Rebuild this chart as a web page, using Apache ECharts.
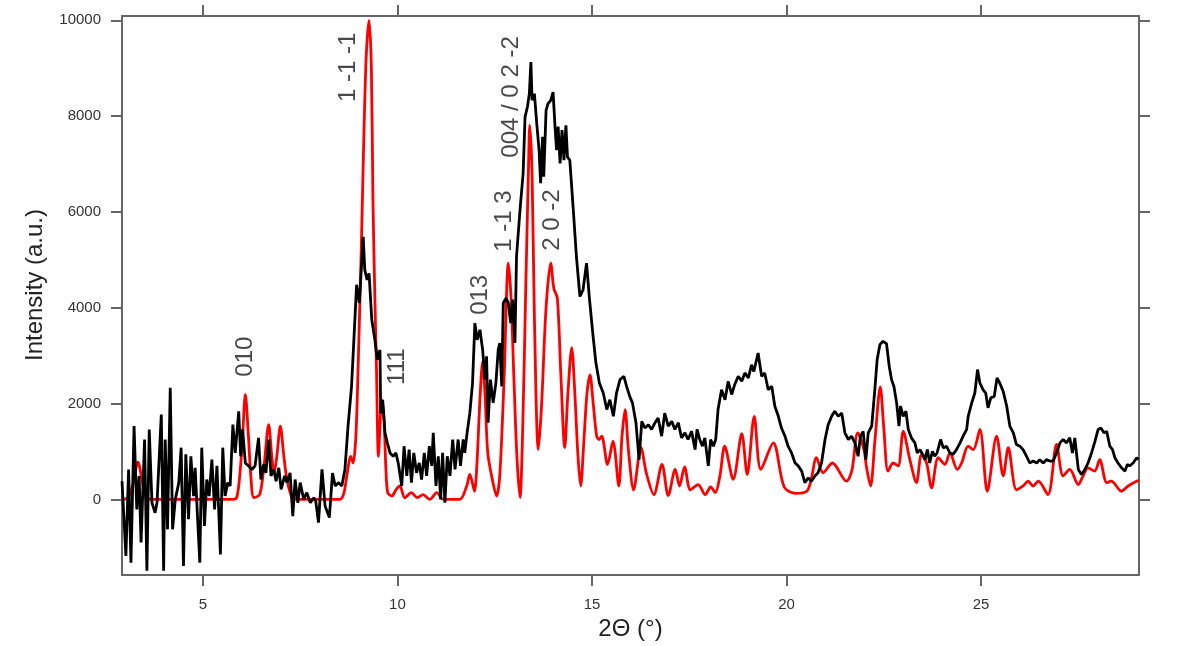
<!DOCTYPE html>
<html>
<head>
<meta charset="utf-8">
<script src="https://cdn.jsdelivr.net/npm/echarts@6/dist/echarts.min.js"></script>
<style>html,body{margin:0;padding:0;background:#fff}#c{width:1181px;height:646px}</style>
</head>
<body>
<div id="c"></div>
<script>
// Calculated pattern (red)
const calcX = [2.92,3.07,3.20,3.33,3.46,3.56,3.77,5.75,5.87,5.96,6.02,6.09,6.17,6.23,6.31,6.46,6.57,6.69,6.77,6.83,6.90,6.99,7.08,7.16,7.29,7.42,8.52,8.62,8.70,8.80,8.86,8.93,8.99,9.08,9.14,9.20,9.27,9.33,9.37,9.42,9.46,9.51,9.55,9.59,9.65,9.70,9.75,9.86,9.96,10.06,10.19,10.36,10.51,10.66,10.83,11.01,11.18,11.60,11.78,11.86,11.91,11.98,12.04,12.12,12.19,12.25,12.32,12.43,12.55,12.63,12.74,12.85,12.92,12.99,13.07,13.15,13.22,13.30,13.37,13.40,13.46,13.52,13.62,13.70,13.82,13.94,14.02,14.11,14.20,14.30,14.38,14.48,14.56,14.64,14.71,14.79,14.87,14.95,15.02,15.12,15.18,15.25,15.40,15.54,15.69,15.77,15.85,15.94,16.07,16.26,16.40,16.59,16.80,16.96,17.14,17.25,17.38,17.53,17.73,17.91,18.05,18.17,18.29,18.41,18.63,18.85,18.99,19.17,19.34,19.66,19.94,20.24,20.52,20.63,20.77,20.94,21.18,21.54,21.68,21.83,21.99,22.06,22.16,22.27,22.41,22.50,22.61,22.74,22.87,23.00,23.17,23.34,23.47,23.60,23.73,23.90,24.07,24.20,24.39,24.50,24.67,24.80,24.97,25.16,25.40,25.57,25.70,25.91,26.08,26.21,26.34,26.47,26.72,26.94,27.11,27.28,27.50,27.62,27.75,27.92,28.05,28.23,28.35,28.61,28.78,29.00,29.06];
const calcY = [0,30,300,780,300,20,0,0,40,620,1320,2190,1320,500,40,100,700,1560,900,550,900,1530,900,415,40,0,0,120,500,900,760,1300,2780,5560,7700,9300,10000,9000,6250,4200,2780,900,1500,2080,1735,700,140,70,200,280,35,140,40,100,0,140,0,0,280,520,400,170,700,2080,2880,2200,980,450,70,500,2500,4930,4200,2600,900,40,1500,4500,7000,7810,6800,3800,1040,1900,4000,4930,4400,4200,2600,1080,2200,3170,2200,900,280,1200,2200,2600,2100,1320,1250,1320,730,1215,280,1300,1875,1000,200,1080,540,100,730,80,625,280,680,200,310,100,260,140,500,1110,420,1370,520,1735,625,1180,260,125,170,400,870,555,760,380,600,1390,1040,650,280,1200,2350,1500,590,760,700,1420,830,350,940,760,240,870,730,970,625,760,1110,1040,1460,170,1320,490,1080,200,280,380,280,380,100,1150,490,625,310,490,660,590,830,350,380,170,280,380,400];

// Experimental pattern (black)
const expX = [2.92,2.96,3.02,3.09,3.15,3.23,3.30,3.36,3.41,3.50,3.56,3.62,3.69,3.77,3.82,3.93,3.99,4.03,4.09,4.16,4.22,4.29,4.38,4.44,4.50,4.56,4.63,4.69,4.76,4.80,4.86,4.92,4.97,5.04,5.10,5.16,5.23,5.30,5.36,5.45,5.51,5.57,5.64,5.70,5.77,5.83,5.92,5.97,6.02,6.09,6.17,6.26,6.34,6.43,6.49,6.56,6.62,6.69,6.75,6.82,6.88,6.95,7.01,7.10,7.16,7.24,7.31,7.37,7.44,7.50,7.59,7.67,7.76,7.85,7.90,7.97,8.06,8.14,8.25,8.33,8.40,8.49,8.57,8.65,8.73,8.82,8.88,8.95,9.02,9.05,9.12,9.16,9.22,9.27,9.34,9.42,9.48,9.55,9.57,9.62,9.68,9.74,9.81,9.89,9.96,10.02,10.11,10.17,10.24,10.30,10.36,10.42,10.49,10.56,10.62,10.69,10.75,10.82,10.88,10.92,10.99,11.05,11.11,11.16,11.22,11.28,11.35,11.42,11.48,11.56,11.62,11.69,11.73,11.79,11.86,11.93,11.99,12.05,12.12,12.19,12.25,12.29,12.33,12.39,12.46,12.53,12.59,12.63,12.68,12.72,12.79,12.85,12.91,12.96,13.02,13.06,13.15,13.23,13.28,13.34,13.39,13.43,13.46,13.52,13.58,13.64,13.68,13.73,13.76,13.82,13.87,13.94,14.00,14.05,14.09,14.13,14.18,14.23,14.28,14.33,14.37,14.43,14.52,14.60,14.69,14.77,14.86,14.93,15.02,15.10,15.19,15.29,15.38,15.46,15.55,15.63,15.72,15.82,15.89,15.97,16.04,16.13,16.21,16.28,16.36,16.45,16.53,16.62,16.70,16.79,16.87,16.96,17.05,17.13,17.22,17.30,17.39,17.47,17.56,17.65,17.70,17.77,17.84,17.90,17.99,18.05,18.12,18.18,18.24,18.33,18.42,18.50,18.59,18.67,18.76,18.85,18.93,19.02,19.10,19.16,19.27,19.36,19.44,19.53,19.62,19.70,19.79,19.87,19.96,20.04,20.13,20.22,20.30,20.39,20.47,20.56,20.64,20.73,20.81,20.90,20.99,21.07,21.16,21.24,21.33,21.42,21.50,21.59,21.67,21.76,21.84,21.90,21.97,22.04,22.10,22.19,22.27,22.33,22.40,22.48,22.57,22.64,22.70,22.76,22.83,22.89,22.93,23.00,23.07,23.13,23.21,23.30,23.36,23.43,23.50,23.56,23.62,23.68,23.75,23.81,23.87,23.96,24.03,24.11,24.20,24.28,24.37,24.46,24.54,24.63,24.67,24.76,24.84,24.91,24.97,25.05,25.12,25.18,25.25,25.34,25.41,25.48,25.57,25.66,25.74,25.83,25.91,26.00,26.08,26.17,26.25,26.34,26.43,26.51,26.60,26.68,26.77,26.85,26.94,27.03,27.11,27.20,27.28,27.35,27.41,27.50,27.58,27.67,27.75,27.84,27.93,28.01,28.08,28.16,28.23,28.31,28.38,28.44,28.52,28.61,28.70,28.76,28.82,28.91,29.00,29.04];
const expY = [380,415,-1180,625,-1320,1530,-210,490,-900,1250,-1490,1460,-70,-280,-70,1770,-1490,1250,-625,2330,-625,0,350,1080,-1390,940,-415,900,70,660,-350,-1320,1080,-555,415,70,830,-210,700,-1150,1080,70,350,280,1560,970,1840,900,1460,760,700,625,700,1285,415,730,555,1250,490,625,380,660,210,490,350,555,-350,415,-70,350,0,140,-70,35,-35,-485,625,-140,-380,550,280,350,280,625,1530,2360,3330,4480,4100,4510,5480,4790,4580,4720,3750,3330,2920,3120,1800,2080,1390,1180,970,900,970,760,280,1110,490,1040,350,970,555,760,415,970,490,1110,700,1390,280,900,0,970,-70,900,490,1250,625,1250,700,1250,970,1390,1800,2430,3680,3330,3540,3120,2500,2985,1600,2500,2015,2430,3120,3265,2360,4100,4200,4100,3680,4170,3265,5070,6040,6800,7985,8190,8470,9130,8330,8470,7850,7290,6600,7570,6735,8120,8260,8330,8500,7780,7290,7780,7015,7710,7080,7810,7150,7080,6040,5070,4235,4375,4930,4235,3470,2850,2430,2220,1875,2080,1735,2220,2500,2570,2360,2150,2015,1600,830,1630,1490,1560,1460,1600,1700,1320,1800,1530,1630,1460,1600,1285,1390,1250,1420,1040,1460,1250,1110,1285,700,1250,1110,1250,1875,2290,2080,2465,2190,2400,2570,2465,2640,2535,2810,2670,3055,2570,2640,2290,2360,1945,1735,1490,1320,1110,970,760,700,590,350,450,380,490,555,760,1250,1560,1735,1840,1735,1800,1390,1250,1320,1180,900,1320,1420,830,1390,1530,2290,2920,3230,3300,3250,2780,2500,2360,2015,1530,1945,1735,1840,1460,1285,1180,970,1040,940,830,1040,760,1005,900,970,1250,1075,1110,970,940,1040,1180,1320,1460,1735,2015,2220,2710,2430,2290,2220,1910,2120,2150,2535,2430,2255,1945,1530,1390,1145,1110,1040,900,760,800,760,830,760,830,800,800,970,1180,1250,1180,1285,970,1285,625,520,625,760,970,1215,1460,1490,1390,1420,1110,1040,870,760,660,590,730,700,760,870,830];

// Axis ticks
const xTicks = [5, 10, 15, 20, 25];
const yTicks = [0, 2000, 4000, 6000, 8000, 10000];

// Reflection annotations
const peakLabels = ['010', '1 -1 -1', '111', '013', '1 -1 3', '004 / 0 2 -2', '2 0 -2'];
const peakLabelX = [6.08, 8.73, 9.99, 12.14, 12.76, 12.94, 13.99];
const peakLabelY = [2980, 9020, 2770, 4270, 5810, 8400, 5830];

const FONT = "'Liberation Sans', Arial, Helvetica, sans-serif";
const axisColor = '#666';
const xMin = 2.92, xMax = 29.06, yMin = -1580, yMax = 10090;

const chart = echarts.init(document.getElementById('c'), null, {renderer: 'canvas'});

const lineStyleAxis = {color: axisColor, width: 2};
function xAx(pos, labels) {
  return {
    type: 'value', position: pos, min: xMin, max: xMax,
    axisLine: {show: true, onZero: false, lineStyle: lineStyleAxis},
    axisTick: {show: true, length: 11, customValues: xTicks, lineStyle: lineStyleAxis},
    axisLabel: {show: labels, customValues: xTicks, margin: 22, fontSize: 15, color: '#333', fontFamily: FONT,
      formatter: v => String(v)},
    splitLine: {show: false},
    name: labels ? '2\u0398 (\u00b0)' : '',
    nameLocation: 'middle', nameGap: 40,
    nameTextStyle: {fontSize: 24, color: '#222', fontFamily: FONT}
  };
}
function yAx(pos, labels) {
  return {
    type: 'value', position: pos, min: yMin, max: yMax,
    axisLine: {show: true, onZero: false, lineStyle: lineStyleAxis},
    axisTick: {show: true, length: 11, customValues: yTicks, lineStyle: lineStyleAxis},
    axisLabel: {show: labels, customValues: yTicks, margin: 21, fontSize: 15, color: '#333', fontFamily: FONT,
      formatter: v => String(v)},
    splitLine: {show: false}
  };
}

chart.setOption({
  animation: false,
  backgroundColor: '#fff',
  grid: {left: 122, right: 42, top: 16, bottom: 70},
  xAxis: [xAx('bottom', true), xAx('top', false)],
  yAxis: [yAx('left', true), yAx('right', false)],
  graphic: [{
    type: 'text', x: 35, y: 285, rotation: Math.PI / 2,
    style: {text: 'Intensity (a.u.)', fontSize: 24, fontFamily: FONT, fill: '#222', align: 'center', verticalAlign: 'middle'}
  }],
  series: [
    {
      type: 'line', name: 'calc', data: calcX.map((x, i) => [x, calcY[i]]),
      showSymbol: false, smooth: 0.3, z: 2,
      lineStyle: {color: '#ff0000', width: 2.8}
    },
    {
      type: 'line', name: 'exp', data: expX.map((x, i) => [x, expY[i]]),
      showSymbol: false, z: 3,
      lineStyle: {color: '#000000', width: 2.8}
    },
    {
      type: 'scatter', name: 'labels', z: 4,
      data: peakLabels.map((t, i) => ({name: t, value: [peakLabelX[i], peakLabelY[i]]})),
      symbolSize: 1, itemStyle: {color: 'transparent'},
      label: {show: true, position: 'inside', formatter: '{b}', rotate: 90, fontSize: 24, color: '#1a1a1a', fontFamily: FONT}
    }
  ]
});
</script>
</body>
</html>
